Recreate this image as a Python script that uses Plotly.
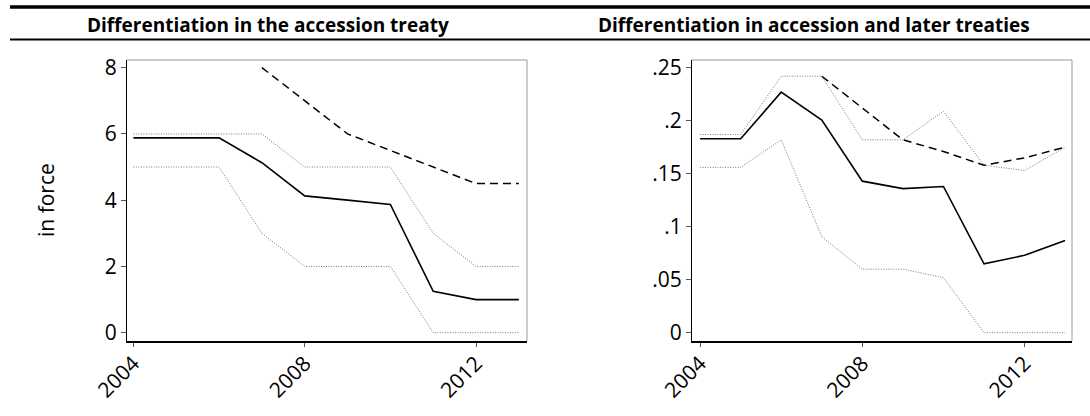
import plotly.graph_objects as go

years = [2004, 2005, 2006, 2007, 2008, 2009, 2010, 2011, 2012, 2013]

# Left panel: Differentiation in the accession treaty
left_mean = [5.88, 5.88, 5.88, 5.13, 4.13, 4.0, 3.87, 1.25, 1.0, 1.0]
left_upper = [6, 6, 6, 6, 5, 5, 5, 3, 2, 2]
left_lower = [5, 5, 5, 3, 2, 2, 2, 0, 0, 0]
left_dash = [None, None, None, 8, 7, 6, 5.5, 5, 4.5, 4.5]

# Right panel: Differentiation in accession and later treaties
right_mean = [0.183, 0.183, 0.227, 0.2006, 0.143, 0.136, 0.138, 0.065, 0.073, 0.087]
right_upper = [0.187, 0.187, 0.242, 0.242, 0.182, 0.182, 0.209, 0.158, 0.153, 0.175]
right_lower = [0.156, 0.156, 0.182, 0.0906, 0.060, 0.060, 0.052, 0, 0, 0]
right_dash = [None, None, None, 0.242, 0.212, 0.182, 0.171, 0.158, 0.165, 0.175]

titles = ["Differentiation in the accession treaty",
          "Differentiation in accession and later treaties"]
y_title = "in force"
x_ticks = [2004, 2008, 2012]
left_yticks = [0, 2, 4, 6, 8]
left_yticklabels = ["0", "2", "4", "6", "8"]
right_yticks = [0, 0.05, 0.1, 0.15, 0.2, 0.25]
right_yticklabels = ["0", ".05", ".1", ".15", ".2", ".25"]

W, H = 1090, 416
fig = go.Figure()

dot_style = dict(color="#7a7a7a", width=1, dash="1px,1.5px")
mean_style = dict(color="black", width=1.6)
dash_style = dict(color="black", width=1.5, dash="8px,5px")

for xa, ya, mean, up, lo, da in [("x", "y", left_mean, left_upper, left_lower, left_dash),
                                 ("x2", "y2", right_mean, right_upper, right_lower, right_dash)]:
    fig.add_trace(go.Scatter(x=years, y=up, mode="lines", line=dot_style, xaxis=xa, yaxis=ya))
    fig.add_trace(go.Scatter(x=years, y=lo, mode="lines", line=dot_style, xaxis=xa, yaxis=ya))
    fig.add_trace(go.Scatter(x=years, y=da, mode="lines", line=dash_style, xaxis=xa, yaxis=ya,
                             connectgaps=False))
    fig.add_trace(go.Scatter(x=years, y=mean, mode="lines", line=mean_style, xaxis=xa, yaxis=ya))

ydom = [1 - 341 / H, 1 - 60 / H]
tickfont = dict(family="Open Sans", size=21, color="black")
common_x = dict(tickmode="array", tickvals=x_ticks, ticktext=[str(v) for v in x_ticks],
                tickangle=-45, showgrid=False, zeroline=False, showline=True,
                linecolor="black", linewidth=2, ticks="outside", ticklen=4,
                tickcolor="#555", tickfont=tickfont, automargin=False,
                ticklabelstandoff=-4)
common_y = dict(tickmode="array", showgrid=False, zeroline=False, showline=True,
                linecolor="black", linewidth=1, ticks="outside", ticklen=5,
                tickcolor="#555", tickfont=tickfont, automargin=False)

fig.update_layout(
    width=W, height=H,
    margin=dict(l=0, r=0, t=0, b=0),
    paper_bgcolor="white", plot_bgcolor="white",
    showlegend=False,
    xaxis=dict(domain=[127 / W, 527 / W], range=[2003.85, 2013.19], anchor="y", **common_x),
    yaxis=dict(domain=ydom, range=[-0.25, 8.23], tickvals=left_yticks,
               ticktext=left_yticklabels, anchor="x", **common_y),
    xaxis2=dict(domain=[692 / W, 1072 / W], range=[2003.80, 2013.17], anchor="y2", **common_x),
    yaxis2=dict(domain=ydom, range=[-0.0078, 0.2573],
                tickvals=right_yticks, ticktext=right_yticklabels, anchor="x2", **common_y),
)

# gray frame on top and right of each plot
for xr, yr in [("x domain", "y domain"), ("x2 domain", "y2 domain")]:
    fig.add_shape(type="line", xref=xr, yref=yr, x0=0, x1=1, y0=1, y1=1,
                  line=dict(color="#999999", width=1))
    fig.add_shape(type="line", xref=xr, yref=yr, x0=1, x1=1, y0=0, y1=1,
                  line=dict(color="#999999", width=1))

# header rules
fig.add_shape(type="line", xref="paper", yref="paper", x0=10 / W, x1=1,
              y0=1 - 7 / H, y1=1 - 7 / H, line=dict(color="black", width=3.5))
fig.add_shape(type="line", xref="paper", yref="paper", x0=10 / W, x1=1,
              y0=1 - 39.5 / H, y1=1 - 39.5 / H, line=dict(color="black", width=2))

for tx, t in zip([268 / W, 814 / W], titles):
    fig.add_annotation(text="<b>" + t + "</b>", x=tx, y=1 - 25 / H, xref="paper", yref="paper",
                       xanchor="center", yanchor="middle", showarrow=False,
                       font=dict(family="Open Sans", size=19, color="black"))

fig.add_annotation(text=y_title, x=46 / W, y=1 - 200 / H, xref="paper", yref="paper",
                   xanchor="center", yanchor="middle", showarrow=False, textangle=-90,
                   font=dict(family="Open Sans", size=21, color="black"))

fig.write_html("out.html", config={"displayModeBar": False},
               post_script="document.body.style.margin='0';")
